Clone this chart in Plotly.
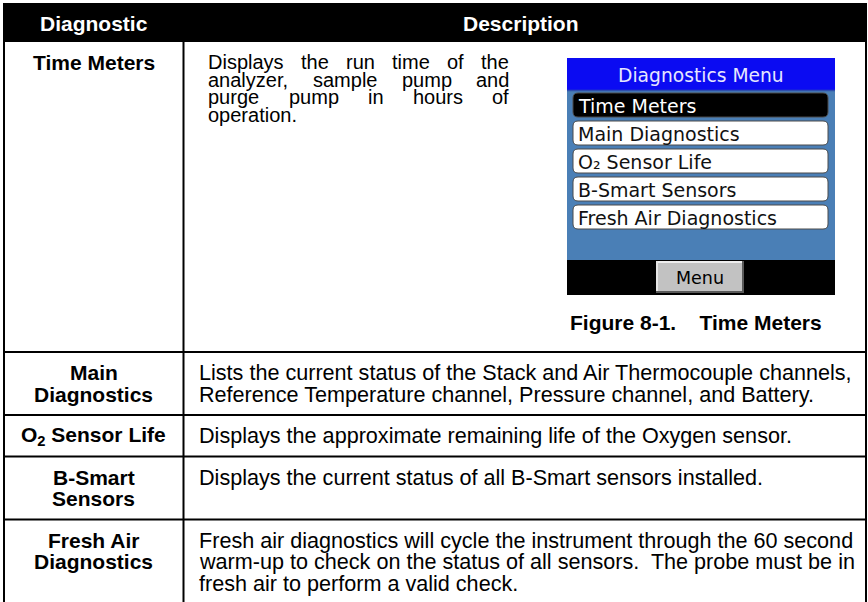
import plotly.graph_objects as go

W, H = 868, 602

# ---------------- data ----------------
header_labels = ["Diagnostic", "Description"]
diag_lines = [
    ["Time Meters"],
    ["Main", "Diagnostics"],
    ["O<sub>2</sub> Sensor Life"],
    ["B-Smart", "Sensors"],
    ["Fresh Air", "Diagnostics"],
]
desc_lines = [
    ["Displays the run time of the", "analyzer, sample pump and",
     "purge pump in hours of", "operation."],
    ["Lists the current status of the Stack and Air Thermocouple channels,",
     "Reference Temperature channel, Pressure channel, and Battery."],
    ["Displays the approximate remaining life of the Oxygen sensor."],
    ["Displays the current status of all B-Smart sensors installed."],
    ["Fresh air diagnostics will cycle the instrument through the 60 second",
     "warm-up to check on the status of all sensors.\u00a0 The probe must be in",
     "fresh air to perform a valid check."],
]
menu_title = "Diagnostics Menu"
menu_items = ["Time Meters", "Main Diagnostics", "O\u2082 Sensor Life",
              "B-Smart Sensors", "Fresh Air Diagnostics"]
menu_selected = 0
softkey_label = "Menu"
caption = "Figure 8-1.\u00a0\u00a0\u00a0 Time Meters"

# ---------------- styles ----------------
SANS = "Liberation Sans, Arial, sans-serif"
LCD = "DejaVu Sans, Verdana, sans-serif"
LABEL_SIZE = 21
DESC_SIZE = 21.6
TM_SIZE = 20
LINE = 21.5
PAD = 10

# Arial / Liberation Sans advance widths (1/1000 em)
AW = {' ': 278, ',': 278, '.': 278, '-': 333, '\u00a0': 278}
for ch, w in zip("abcdefghijklmnopqrstuvwxyz",
                 [556, 556, 500, 556, 556, 278, 556, 556, 222, 222, 500, 222, 833,
                  556, 556, 556, 556, 333, 500, 278, 556, 500, 722, 500, 500, 500]):
    AW[ch] = w
AW.update({'D': 722})


def text_w(s, size):
    return sum(AW.get(c, 556) for c in s) * size / 1000.0


fig = go.Figure()
fig.add_trace(go.Scatter(x=[0, W], y=[0, H], mode="markers",
                         marker=dict(opacity=0, size=1), hoverinfo="skip",
                         showlegend=False))

shapes = []
ann = []


def rect(x0, y0, x1, y1, fill, line_color=None, lw=0):
    shapes.append(dict(type="rect", x0=x0, y0=y0, x1=x1, y1=y1, fillcolor=fill,
                       line=dict(color=line_color or fill, width=lw), layer="above"))


def hline(x0, x1, y, color="black", w=2):
    shapes.append(dict(type="line", x0=x0, x1=x1, y0=y, y1=y,
                       line=dict(color=color, width=w), layer="above"))


def vline(x, y0, y1, color="black", w=2):
    shapes.append(dict(type="line", x0=x, x1=x, y0=y0, y1=y1,
                       line=dict(color=color, width=w), layer="above"))


def rrect(x0, y0, x1, y1, r, fill, line_color, lw):
    p = (f"M{x0+r},{y0} L{x1-r},{y0} Q{x1},{y0} {x1},{y0+r} L{x1},{y1-r} "
         f"Q{x1},{y1} {x1-r},{y1} L{x0+r},{y1} Q{x0},{y1} {x0},{y1-r} "
         f"L{x0},{y0+r} Q{x0},{y0} {x0+r},{y0} Z")
    shapes.append(dict(type="path", path=p, fillcolor=fill,
                       line=dict(color=line_color, width=lw), layer="above"))


def text(x, y, s, size, color="black", family=SANS, anchor="left", bold=False):
    ann.append(dict(x=x, y=y, xref="x", yref="y", text=(f"<b>{s}</b>" if bold else s),
                    showarrow=False, xanchor=anchor, yanchor="middle",
                    font=dict(family=family, size=size, color=color), borderpad=0))


# ---------------- table geometry ----------------
XL, XD, XR = 4, 183.5, 866
HEAD_T, HEAD_B = 3, 42
ROW1_B = 352
col1_c = (XL + XD) / 2
col2_c = (XD + XR) / 2

rect(XL - 1, HEAD_T, XR + 1, HEAD_B, "black")
text(col1_c, 23, header_labels[0], LABEL_SIZE, "white", anchor="center", bold=True)
text(col2_c - 4, 23, header_labels[1], LABEL_SIZE, "white", anchor="center", bold=True)

# row boundaries (row height from the larger line count of the two cells)
tops = [HEAD_B, ROW1_B]
y = ROW1_B
for dl, ds in zip(diag_lines[1:], desc_lines[1:]):
    y += 2 * PAD + LINE * max(len(dl), len(ds))
    tops.append(y)

for yb in tops[1:]:
    hline(XL, XR, yb)
for xv in (XL, XD, XR):
    vline(xv, HEAD_B, H + 20)

# labels
text(col1_c, tops[0] + 20, diag_lines[0][0], LABEL_SIZE, anchor="center", bold=True)
for i, lines in enumerate(diag_lines[1:], start=1):
    for j, s in enumerate(lines):
        text(col1_c, tops[i] + PAD + LINE / 2 + LINE * j, s, LABEL_SIZE,
             anchor="center", bold=True)

# Time Meters description: justified narrow column
TM_L, TM_R, TM_SP = 207, 508, 17.5
for j, s in enumerate(desc_lines[0]):
    yy = tops[0] + 20 + TM_SP * j
    words = s.split(" ")
    if j == len(desc_lines[0]) - 1 or len(words) == 1:
        text(TM_L, yy, s, TM_SIZE)
        continue
    widths = [text_w(w, TM_SIZE) for w in words]
    gap = (TM_R - TM_L - sum(widths)) / (len(words) - 1)
    xx = TM_L
    for w, wd in zip(words, widths):
        text(xx, yy, w, TM_SIZE)
        xx += wd + gap

# other descriptions
for i, lines in enumerate(desc_lines[1:], start=1):
    for j, s in enumerate(lines):
        text(198, tops[i] + PAD + LINE / 2 + LINE * j, s, DESC_SIZE)

# ---------------- LCD screen figure ----------------
SX0, SX1, SY0, SY1 = 567, 835, 58, 295
rect(SX0, SY0, SX1, SY1, "#4a7fb6")
rect(SX0, SY0, SX1, 90, "#0b0bf2")
hline(SX0, SX1, 90.5, "#2f4fae", 1.5)
text((SX0 + SX1) / 2, 75, menu_title, 18.7, "#e6e6ff", LCD, "center")
for k, item in enumerate(menu_items):
    t = 93 + 28 * k
    sel = (k == menu_selected)
    rrect(573, t, 828, t + 24, 5, "black" if sel else "white", "#4a4a4a", 1)
    text(577, t + 12.5, item, 19, "white" if sel else "#111111", LCD)
rect(SX0, 260, SX1, SY1, "black")
rect(656, 261, 744, 293, "#c2c2c2")
hline(656, 744, 262, "#eeeeee", 2)
vline(657, 261, 293, "#e6e6e6", 2)
hline(656, 744, 292, "#5a5a5a", 2)
vline(743, 261, 293, "#5a5a5a", 2)
text(700, 277.5, softkey_label, 17.5, "black", LCD, "center")

text(696, 322, caption, LABEL_SIZE, anchor="center", bold=True)

fig.update_layout(
    width=W, height=H, margin=dict(l=0, r=0, t=0, b=0),
    paper_bgcolor="white", plot_bgcolor="white",
    xaxis=dict(range=[0, W], visible=False, fixedrange=True),
    yaxis=dict(range=[H, 0], visible=False, fixedrange=True),
    shapes=shapes, annotations=ann, showlegend=False,
)
fig.write_html("out.html", config={"displayModeBar": False},
               post_script="document.body.style.margin='0';"
                           "document.body.style.overflow='hidden';")
